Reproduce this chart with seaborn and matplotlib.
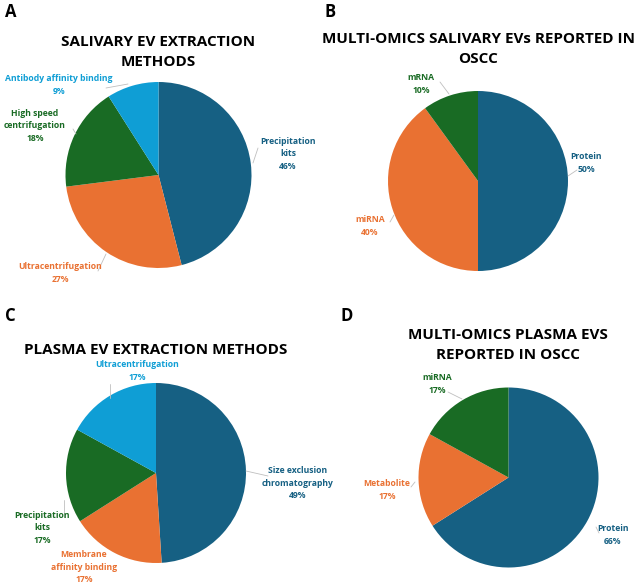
import matplotlib
matplotlib.use("Agg")
import matplotlib.pyplot as plt
from matplotlib.lines import Line2D
import seaborn as sns

# data
a_labels = ["Precipitation\nkits", "Ultracentrifugation", "High speed\ncentrifugation", "Antibody affinity binding"]
a_values = [46, 27, 18, 9]
b_labels = ["Protein", "miRNA", "mRNA"]
b_values = [50, 40, 10]
c_labels = ["Size exclusion\nchromatography", "Membrane\naffinity binding", "Precipitation\nkits", "Ultracentrifugation"]
c_values = [49, 17, 17, 17]
d_labels = ["Protein", "Metabolite", "miRNA"]
d_values = [66, 17, 17]

titles = ["SALIVARY EV EXTRACTION\nMETHODS",
          "MULTI-OMICS SALIVARY EVs REPORTED IN\nOSCC",
          "PLASMA EV EXTRACTION METHODS",
          "MULTI-OMICS PLASMA EVS\nREPORTED IN OSCC"]

sns.set_theme(style="white")
plt.rcParams["font.family"] = ["Open Sans", "DejaVu Sans"]

BLUE, ORANGE, GREEN, LIGHT = "#166083", "#E97132", "#196B24", "#0F9ED5"

W, H = 639, 586
fig = plt.figure(figsize=(W / 100, H / 100), dpi=100)
fig.patch.set_facecolor("white")


def fx(x, y):
    return x / W, 1 - y / H


def draw_pie(cx, cy, r, values, colors):
    ax = fig.add_axes([(cx - r) / W, 1 - (cy + r) / H, 2 * r / W, 2 * r / H])
    ax.pie(values, colors=colors, startangle=90, counterclock=False,
           radius=1, wedgeprops=dict(linewidth=0))
    ax.set_xlim(-1, 1)
    ax.set_ylim(-1, 1)
    ax.set_aspect("equal")
    ax.axis("off")
    return ax


def label(x, y, text, color, line):
    fig.text(*fx(x, y), text, color=color, fontsize=6.2, fontweight="bold",
             ha="center", va="center", linespacing=1.45)
    (x0, y0), (x1, y1) = line
    fig.add_artist(Line2D([x0 / W, x1 / W], [1 - y0 / H, 1 - y1 / H],
                          color="#bfbfbf", lw=0.6))


def title(x, y, text):
    fig.text(*fx(x, y), text, fontsize=11, fontweight="bold", color="black",
             ha="center", va="center", linespacing=1.5)


def panel(x, y, text):
    fig.text(*fx(x, y), text, fontsize=12, fontweight="bold", color="black",
             ha="left", va="center")


# A
panel(5, 12, "A")
title(158, 52, titles[0])
draw_pie(158.5, 175, 93, a_values, [BLUE, ORANGE, GREEN, LIGHT])
label(288, 154, a_labels[0] + "\n%d%%" % a_values[0], BLUE, ((253, 163), (258, 148)))
label(60, 273, a_labels[1] + "\n%d%%" % a_values[1], ORANGE, ((98, 271), (106, 254)))
label(35, 126, a_labels[2] + "\n%d%%" % a_values[2], GREEN, ((73, 129), (76, 134)))
label(59, 85, a_labels[3] + "\n%d%%" % a_values[3], LIGHT, ((106, 88), (128, 84)))

# B
panel(325, 12, "B")
title(478, 49, titles[1])
draw_pie(478, 181, 90, b_values, [BLUE, ORANGE, GREEN])
label(586, 163, b_labels[0] + "\n%d%%" % b_values[0], BLUE, ((577, 170), (568, 176)))
label(370, 226, b_labels[1] + "\n%d%%" % b_values[1], ORANGE, ((390, 222), (394, 215)))
label(421, 84, b_labels[2] + "\n%d%%" % b_values[2], GREEN, ((440, 82), (449, 94)))

# C
panel(5, 316, "C")
title(156, 350, titles[2])
draw_pie(156, 473, 90, c_values, [BLUE, ORANGE, GREEN, LIGHT])
label(298, 483, c_labels[0] + "\n%d%%" % c_values[0], BLUE, ((246, 471), (268, 476)))
label(84, 567, c_labels[1] + "\n%d%%" % c_values[1], ORANGE, ((100, 555), (100, 555)))
label(42, 528, c_labels[2] + "\n%d%%" % c_values[2], GREEN, ((64, 500), (64, 517)))
label(137, 371, c_labels[3] + "\n%d%%" % c_values[3], LIGHT, ((110, 384), (110, 398)))

# D
panel(340, 316, "D")
title(508, 345, titles[3])
draw_pie(508.5, 477.5, 90, d_values, [BLUE, ORANGE, GREEN])
label(613, 535, d_labels[0] + "\n%d%%" % d_values[0], BLUE, ((596, 527), (599, 533)))
label(387, 490, d_labels[1] + "\n%d%%" % d_values[1], ORANGE, ((411, 487), (415, 482)))
label(437, 384, d_labels[2] + "\n%d%%" % d_values[2], GREEN, ((448, 392), (462, 399)))

fig.savefig("out.png", dpi=100, facecolor="white")
